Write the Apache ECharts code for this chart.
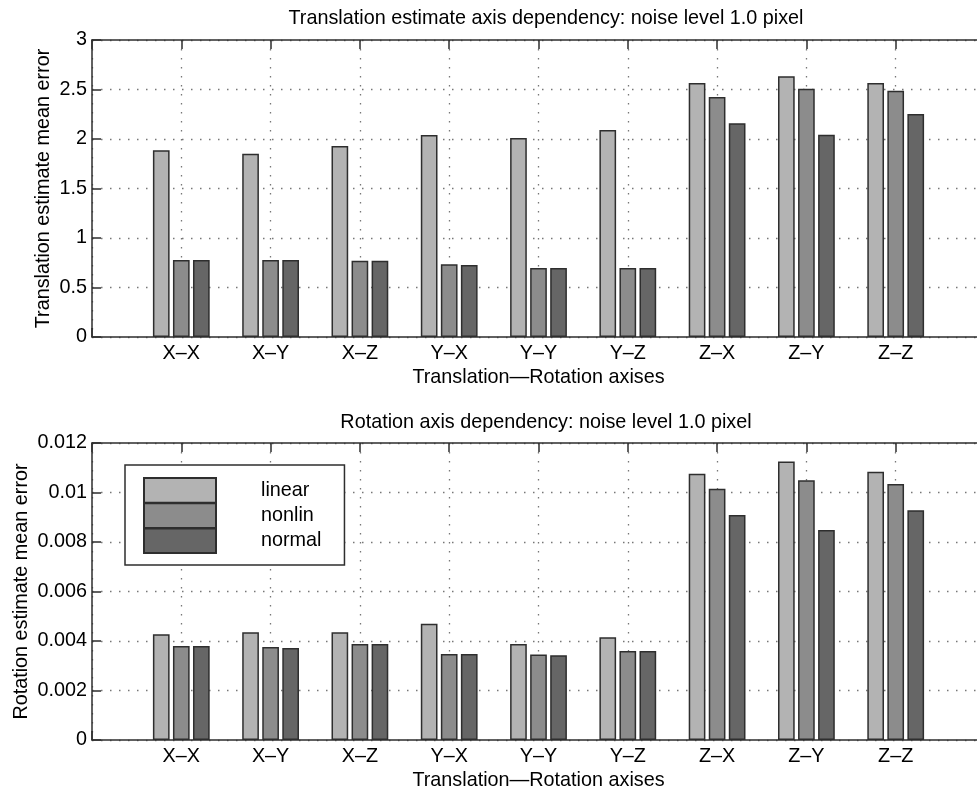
<!DOCTYPE html>
<html>
<head>
<meta charset="utf-8">
<script src="https://cdn.jsdelivr.net/npm/echarts@6/dist/echarts.min.js"></script>
<style>
html,body{margin:0;padding:0;background:#fff;overflow:hidden;}
#chart{width:1000px;height:792px;}
</style>
</head>
<body>
<div id="chart"></div>
<script>
// ---- data ----
var categories = ['X\u2013X','X\u2013Y','X\u2013Z','Y\u2013X','Y\u2013Y','Y\u2013Z','Z\u2013X','Z\u2013Y','Z\u2013Z'];
var seriesNames = ['linear','nonlin','normal'];

var transLinear = [1.886, 1.852, 1.930, 2.040, 2.010, 2.090, 2.566, 2.633, 2.566];
var transNonlin = [0.778, 0.778, 0.770, 0.734, 0.697, 0.697, 2.424, 2.508, 2.488];
var transNormal = [0.778, 0.778, 0.770, 0.727, 0.697, 0.697, 2.158, 2.044, 2.253];

var rotLinear = [0.00427, 0.00435, 0.00435, 0.00470, 0.00388, 0.00415, 0.01076, 0.01125, 0.01084];
var rotNonlin = [0.00380, 0.00376, 0.00388, 0.00347, 0.00345, 0.00360, 0.01015, 0.01049, 0.01034];
var rotNormal = [0.00380, 0.00372, 0.00388, 0.00347, 0.00342, 0.00360, 0.00909, 0.00848, 0.00928];

var transTicks = ['0','0.5','1','1.5','2','2.5','3'];
var rotTicks = ['0','0.002','0.004','0.006','0.008','0.01','0.012'];

var title1 = 'Translation estimate axis dependency: noise level 1.0 pixel';
var title2 = 'Rotation axis dependency: noise level 1.0 pixel';
var xName = 'Translation\u2014Rotation axises';
var yName1 = 'Translation estimate mean error';
var yName2 = 'Rotation estimate mean error';

// ---- styling ----
var FONT = "'Liberation Sans', Arial, Helvetica, sans-serif";
var FS = 19.8;
var colors = ['#b3b3b3', '#8c8c8c', '#666666'];
var edge = '#2e2e2e';
var dotColor = '#777';

function pts(arr){ return arr.map(function(v,i){ return [i+1, v]; }); }

function xAxes(gi){
  return [{
    type:'value', gridIndex:gi, min:0, max:10, interval:1, position:'bottom',
    axisLine:{show:true, lineStyle:{color:edge, width:1.5}},
    axisTick:{show:true, inside:true, length:9, lineStyle:{color:edge, width:1.5}},
    axisLabel:{color:'#000', fontFamily:FONT, fontSize:FS, margin:7,
      formatter:function(v){ return categories[v-1] || ''; }},
    splitLine:{show:true, lineStyle:{color:dotColor, width:1.3, type:[1.5,7.5]}},
    name:xName, nameLocation:'middle', nameGap:31, nameMoveOverlap:false,
    nameTextStyle:{color:'#000', fontFamily:FONT, fontSize:FS}
  },{
    type:'value', gridIndex:gi, min:0, max:10, interval:1, position:'top',
    axisLine:{show:true, lineStyle:{color:edge, width:1.5}},
    axisTick:{show:true, inside:true, length:9, lineStyle:{color:edge, width:1.5}},
    axisLabel:{show:false}, splitLine:{show:false}
  }];
}
function yAxis(gi, max, interval, ticks, name, gap){
  return {
    type:'value', gridIndex:gi, min:0, max:max, interval:interval,
    axisLine:{show:true, lineStyle:{color:edge, width:1.5}},
    axisTick:{show:true, inside:true, length:9, lineStyle:{color:edge, width:1.5}},
    axisLabel:{color:'#000', fontFamily:FONT, fontSize:FS, margin:5,
      formatter:function(v, idx){ return ticks[idx]; }},
    splitLine:{show:true, lineStyle:{color:dotColor, width:1.3, type:[1.5,7.5]}},
    name:name, nameLocation:'middle', nameGap:gap, nameMoveOverlap:false,
    nameTextStyle:{color:'#000', fontFamily:FONT, fontSize:FS}
  };
}
function barSeries(name, data, xi, yi, ci){
  return {
    type:'bar', name:name, xAxisIndex:xi, yAxisIndex:yi,
    data:pts(data), barWidth:16.7, barGap:'20%',
    itemStyle:{color:colors[ci], borderColor:edge, borderWidth:1.5},
    emphasis:{disabled:true}, z:3
  };
}

var chart = echarts.init(document.getElementById('chart'), null, {renderer:'canvas'});
chart.setOption({
  animation:false,
  backgroundColor:'#fff',
  title:[
    {text:title1, left:541, top:4, textAlign:'center',
      textStyle:{color:'#000', fontFamily:FONT, fontSize:FS, fontWeight:'normal'}},
    {text:title2, left:541, top:408, textAlign:'center',
      textStyle:{color:'#000', fontFamily:FONT, fontSize:FS, fontWeight:'normal'}}
  ],
  grid:[
    {left:92, top:40, width:893, height:297, show:false, outerBoundsMode:'none', containLabel:false},
    {left:92, top:443, width:893, height:297, show:false, outerBoundsMode:'none', containLabel:false}
  ],
  xAxis: xAxes(0).concat(xAxes(1)),
  yAxis:[
    yAxis(0, 3, 0.5, transTicks, yName1, 38),
    yAxis(1, 0.012, 0.002, rotTicks, yName2, 60)
  ],
  legend:{
    data:seriesNames, orient:'vertical', left:125, top:465,
    icon:'rect', itemWidth:72, itemHeight:24.7, itemGap:-1.5,
    padding:[12,23,11,18], borderColor:edge, borderWidth:1.5, backgroundColor:'#fff',
    selectedMode:false,
    textStyle:{color:'#000', fontFamily:FONT, fontSize:FS, lineHeight:22, padding:[0,0,0,40]}
  },
  series:[
    barSeries(seriesNames[0], transLinear, 0, 0, 0),
    barSeries(seriesNames[1], transNonlin, 0, 0, 1),
    barSeries(seriesNames[2], transNormal, 0, 0, 2),
    barSeries(seriesNames[0], rotLinear, 2, 1, 0),
    barSeries(seriesNames[1], rotNonlin, 2, 1, 1),
    barSeries(seriesNames[2], rotNormal, 2, 1, 2)
  ]
});
</script>
</body>
</html>
